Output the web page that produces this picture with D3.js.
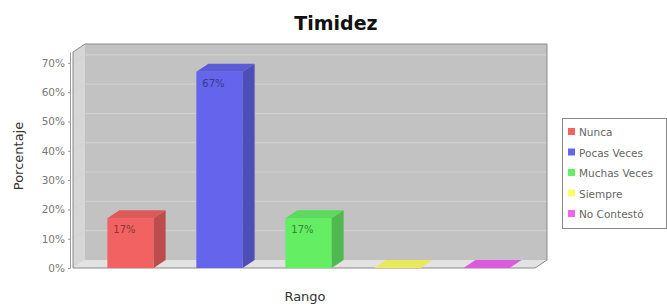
<!DOCTYPE html>
<html>
<head>
<meta charset="utf-8">
<script src="https://cdn.jsdelivr.net/npm/d3@7"></script>
<style>
  html, body { margin: 0; padding: 0; background: #fff; }
  text { font-family: "DejaVu Sans", sans-serif; }
</style>
</head>
<body>
<div id="app"></div>
<script>
const categories = ['Nunca', 'Pocas Veces', 'Muchas Veces', 'Siempre', 'No Contestó'];
const values = [0.17, 0.67, 0.17, 0, 0];
const colors = ['#f26262', '#6464ec', '#64ee64', '#ffff64', '#f064f0'];
const yTicks = [0, 0.1, 0.2, 0.3, 0.4, 0.5, 0.6, 0.7];

const WIDTH = 667, HEIGHT = 308;
const DX = 12, DY = 8;               // 3d offset
const plot = { left: 73, right: 535, top: 52, bottom: 268 };

const svg = d3.select('#app').append('svg')
  .attr('width', WIDTH)
  .attr('height', HEIGHT);

const y = d3.scaleLinear().domain([0, 0.737]).range([plot.bottom, plot.top]);
const x = d3.scaleBand().domain(categories)
  .range([86, 531])
  .paddingInner(0.48)
  .paddingOuter(0.24);

// walls
svg.append('rect')
  .attr('x', plot.left + DX).attr('y', plot.top - DY)
  .attr('width', plot.right - plot.left).attr('height', plot.bottom - plot.top)
  .attr('fill', '#c2c2c2');
svg.append('path')
  .attr('d', `M${plot.left},${plot.top} L${plot.left + DX},${plot.top - DY} L${plot.left + DX},${plot.bottom - DY} L${plot.left},${plot.bottom} Z`)
  .attr('fill', '#d6d6d6');
svg.append('path')
  .attr('d', `M${plot.left},${plot.bottom} L${plot.left + DX},${plot.bottom - DY} L${plot.right + DX},${plot.bottom - DY} L${plot.right},${plot.bottom} Z`)
  .attr('fill', '#e2e2e2');

// gridlines on left + back wall
svg.selectAll('.grid')
  .data(yTicks.slice(1))
  .enter()
  .append('path')
    .attr('d', d => `M${plot.left},${y(d)} L${plot.left + DX},${y(d) - DY} L${plot.right + DX},${y(d) - DY}`)
    .attr('fill', 'none')
    .attr('stroke', '#d2d2d2')
    .attr('stroke-width', 1);

// outline
svg.append('path')
  .attr('d', `M${plot.left},${plot.top} L${plot.left + DX},${plot.top - DY} L${plot.right + DX},${plot.top - DY} L${plot.right + DX},${plot.bottom - DY} L${plot.right},${plot.bottom} L${plot.left},${plot.bottom} Z`)
  .attr('fill', 'none')
  .attr('stroke', '#8a8a8a')
  .attr('stroke-width', 1);

// bars
const bars = svg.selectAll('.bar')
  .data(categories.map((c, i) => ({ c, v: values[i], color: colors[i] })))
  .enter()
  .append('g');

bars.append('rect')
  .attr('x', d => x(d.c))
  .attr('y', d => y(d.v))
  .attr('width', x.bandwidth())
  .attr('height', d => y(0) - y(d.v))
  .attr('fill', d => d.color);

bars.append('path')   // top face
  .attr('d', d => {
    const x0 = x(d.c), x1 = x0 + x.bandwidth(), yy = y(d.v);
    return `M${x0},${yy} L${x0 + DX},${yy - DY} L${x1 + DX},${yy - DY} L${x1},${yy} Z`;
  })
  .attr('fill', d => d3.color(d.color).darker(0.25));

bars.append('path')   // side face
  .attr('d', d => {
    const x1 = x(d.c) + x.bandwidth(), yy = y(d.v), y0 = y(0);
    return `M${x1},${yy} L${x1 + DX},${yy - DY} L${x1 + DX},${y0 - DY} L${x1},${y0} Z`;
  })
  .attr('fill', d => d3.color(d.color).darker(0.7));

bars.filter(d => d.v > 0)
  .append('text')
  .attr('x', d => x(d.c) + 6)
  .attr('y', d => y(d.v) + 15)
  .attr('font-size', 10)
  .attr('fill', d => d3.color(d.color).darker(1.6))
  .text(d => Math.round(d.v * 100) + '%');

// value axis
const axis = svg.append('g')
  .attr('transform', `translate(${plot.left - 3},0)`)
  .call(d3.axisLeft(y).tickValues(yTicks).tickFormat(d3.format('.0%'))
    .tickSizeInner(2).tickSizeOuter(0).tickPadding(3));
axis.select('.domain').attr('stroke', '#999');
axis.selectAll('.tick line').attr('stroke', '#999');
axis.selectAll('.tick text')
  .attr('font-family', '"DejaVu Sans", sans-serif')
  .attr('font-size', 10.5)
  .attr('fill', '#777');

// title and axis labels
svg.append('text')
  .attr('x', 336).attr('y', 30)
  .attr('text-anchor', 'middle')
  .attr('font-size', 19).attr('font-weight', 'bold')
  .attr('fill', '#111')
  .text('Timidez');

svg.append('text')
  .attr('transform', 'translate(23,156) rotate(-90)')
  .attr('text-anchor', 'middle')
  .attr('font-size', 13)
  .attr('fill', '#333')
  .text('Porcentaje');

svg.append('text')
  .attr('x', 305).attr('y', 301)
  .attr('text-anchor', 'middle')
  .attr('font-size', 13)
  .attr('fill', '#333')
  .text('Rango');

// legend
const legend = svg.append('g');
legend.append('rect')
  .attr('x', 562.5).attr('y', 118.5)
  .attr('width', 104).attr('height', 110)
  .attr('fill', '#fff')
  .attr('stroke', '#888');

const items = legend.selectAll('.item')
  .data(categories)
  .enter()
  .append('g')
    .attr('transform', (d, i) => `translate(0,${132 + i * 20.5})`);

items.append('rect')
  .attr('x', 568).attr('y', -4)
  .attr('width', 7).attr('height', 7)
  .attr('fill', (d, i) => colors[i]);

items.append('text')
  .attr('x', 579).attr('y', 4)
  .attr('font-size', 10.5)
  .attr('fill', '#666')
  .text(d => d);
</script>
</body>
</html>
